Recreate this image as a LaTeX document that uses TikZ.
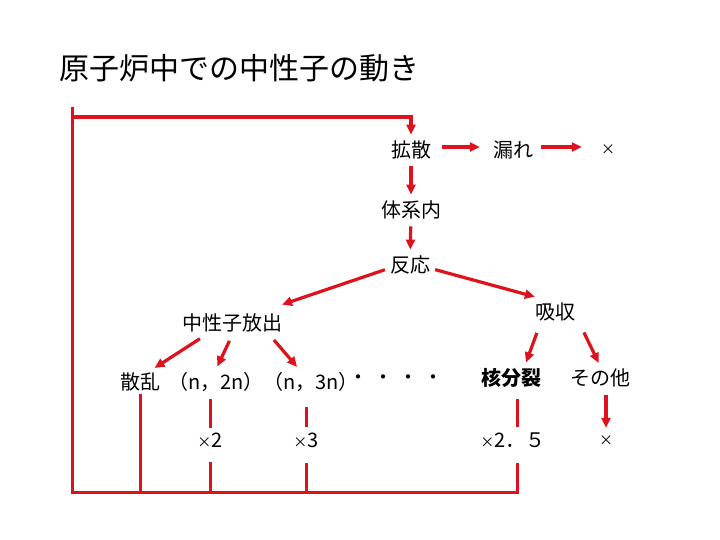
\documentclass[tikz,border=0pt]{standalone}
\usepackage{fontspec}
\setmainfont{Noto Sans CJK JP}
\usepackage{tikz}
\usetikzlibrary{arrows.meta}
\definecolor{flowred}{RGB}{222,18,28}
\newcommand{\smallx}{{\fontsize{14}{14}\selectfont ×}}

\begin{document}
\begin{tikzpicture}[
  x=1pt, y=-1pt,
  font=\fontsize{20}{22}\selectfont,
  every node/.style={inner sep=3pt},
  arrow/.style={draw=flowred, line width=3.2pt, -{Triangle[length=10pt,width=9pt]}, shorten <=4pt, shorten >=3pt},
  link/.style={draw=flowred, line width=3pt}
]
\useasboundingbox (0,0) rectangle (720,540);
\node[anchor=west, font=\fontsize{30}{32}\selectfont] (title) at (56,68) {原子炉中での中性子の動き};
% upper chain
\node (kakusan) at (411,150) {拡散};
\node (more) at (513,150) {漏れ};
\node (lost1) at (608,150) {\smallx};
\node (keinai) at (411,210) {体系内};
\node (hanno) at (410,265) {反応};
\node (houshutsu) at (232,323) {中性子放出};
\node (kyushu) at (555,312) {吸収};
% reaction row
\node (sanran) at (140,382) {散乱};
\node (n2n) at (216,382) {（n，2n）};
\node (n3n) at (311,382) {（n，3n）};
\node (dots) at (396,380) {・\hspace{5pt}・\hspace{5pt}・\hspace{5pt}・};
\node[font=\fontsize{20}{22}\selectfont\bfseries] (bunretsu) at (511,378) {核分裂};
\node (sonota) at (600,378) {その他};
% multiplicities
\node (times2) at (210,440) {\smallx 2};
\node (times3) at (306,440) {\smallx 3};
\node (times25) at (513,440) {\smallx 2．５};
\node (lost2) at (606,441) {\smallx};
% loop corners
\coordinate (looptop) at (72,107);
\coordinate (topbar) at (72,117);
\coordinate (loopcorner) at (72,492);

\draw[arrow, shorten <=8pt, shorten >=10pt] ([yshift=3pt]kakusan.east) -- ([yshift=3pt]more.west);
\draw[arrow, shorten <=5pt, shorten >=16pt] ([yshift=3pt]more.east) -- ([yshift=3pt]lost1.west);
\draw[arrow] (kakusan) -- (keinai);
\draw[arrow] (keinai) -- (hanno);
\draw[arrow, shorten <=2pt] (hanno.190) -- ([xshift=-6pt,yshift=5pt]houshutsu.north east);
\draw[arrow, shorten <=2pt] (hanno.-10) -- ([xshift=6pt,yshift=2pt]kyushu.north west);
\draw[arrow, shorten <=6pt] ([xshift=-27pt]houshutsu.south) -- ([xshift=12pt]sanran.north);
\draw[arrow, shorten <=6pt] (houshutsu.south) -- (n2n.north);
\draw[arrow, shorten <=6pt] ([xshift=38pt]houshutsu.south) -- ([xshift=-12pt]n3n.north);
\draw[arrow, shorten <=9pt] ([xshift=-15pt]kyushu.south) -- ([xshift=14pt]bunretsu.north);
\draw[arrow, shorten <=9pt] ([xshift=25pt]kyushu.south) -- (sonota.north);
\draw[arrow, shorten <=5pt, shorten >=5pt] (sonota.south -| lost2.north) -- (lost2.north);
% feedback into diffusion
\draw[link] (sanran.south) -- (sanran.south |- loopcorner);
\draw[link, shorten <=4pt, shorten >=2pt] (times2.north |- n2n.south) -- (times2.north);
\draw[link, shorten <=12pt] (times2.south) -- (times2.south |- loopcorner);
\draw[link, shorten <=12pt, shorten >=2pt] (times3.north |- n3n.south) -- (times3.north);
\draw[link, shorten <=12pt] (times3.south) -- (times3.south |- loopcorner);
\draw[link, shorten <=8pt, shorten >=2pt] ([xshift=4pt]times25.north |- bunretsu.south) -- ([xshift=4pt]times25.north);
\draw[link, shorten <=12pt] ([xshift=4pt]times25.south) -- ([xshift=4pt]times25.south |- loopcorner) -- (loopcorner) -- (looptop);
\draw[arrow, shorten <=0pt] (topbar) -| (kakusan.north);
\end{tikzpicture}
\end{document}
